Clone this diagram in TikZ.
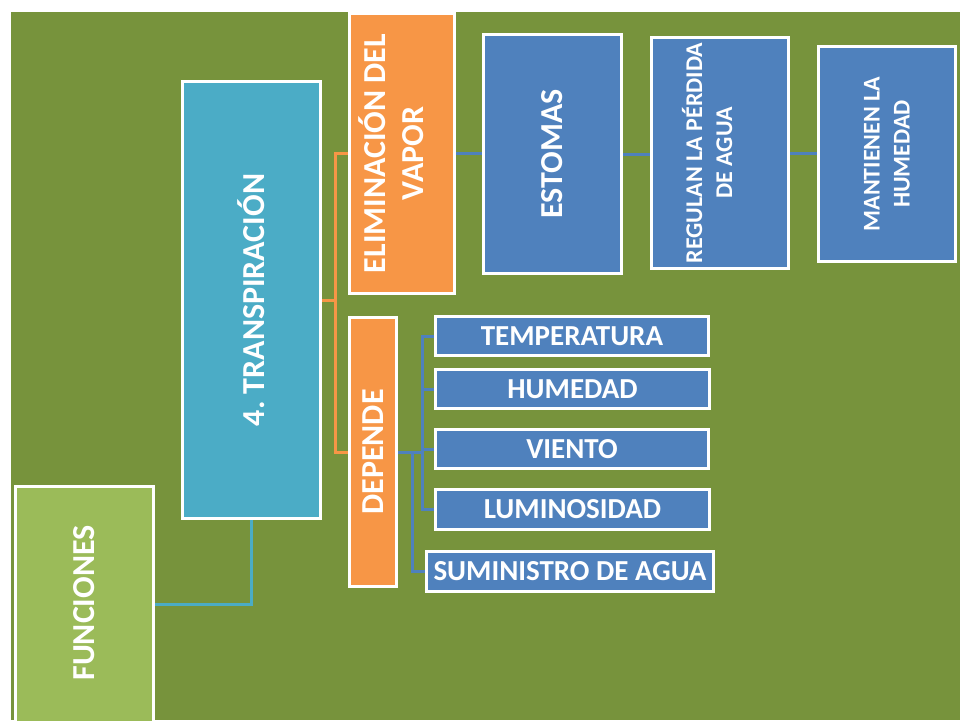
\documentclass[tikz,border=0pt]{standalone}
\usepackage{fontspec}
\setmainfont{Carlito}
\frenchspacing
\pgfdeclarelayer{bg}
\pgfsetlayers{bg,main}
\definecolor{bggreen}{HTML}{77933C}
\definecolor{ltgreen}{HTML}{9BBB59}
\definecolor{aqua}{HTML}{4BACC6}
\definecolor{orng}{HTML}{F79646}
\definecolor{blu}{HTML}{4F81BD}
\tikzset{
  box/.style={draw=white, line width=3pt, fill=#1, inner sep=0pt, rectangle},
  vlbl/.style={text=white, font=\bfseries\fontsize{32}{38.4}\selectfont, rotate=90, align=center, inner sep=0pt},
  vlbls/.style={text=white, font=\bfseries\fontsize{24}{30}\selectfont, rotate=90, align=center, inner sep=0pt},
  hbox/.style={box=blu, minimum width=273pt, minimum height=39pt, text=white, font=\bfseries\fontsize{29}{34}\selectfont},
  conn/.style={line width=3pt, draw=#1},
}
\begin{document}
\begin{tikzpicture}[x=1pt, y=-1pt]
\useasboundingbox (0,0) rectangle (960,720);

% boxes
\node[box=ltgreen, minimum width=138pt, minimum height=236pt] (func) at (84.5,604) {};
\node[box=aqua, minimum width=138pt, minimum height=437pt] (trans) at (251.5,300) {};
\node[box=orng, minimum width=105pt, minimum height=280pt] (elim) at (402,153.5) {};
\node[box=orng, minimum width=47pt, minimum height=269pt] (dep) at (373,452) {};
\node[box=blu, minimum width=138pt, minimum height=239pt] (est) at (552.5,154) {};
\node[box=blu, minimum width=137pt, minimum height=231pt] (reg) at (720,153) {};
\node[box=blu, minimum width=137pt, minimum height=215pt] (mant) at (887,154) {};

\node[hbox] (temp) at (572,336) {TEMPERATURA};
\node[hbox, minimum width=274pt] (hum) at (572.5,389) {HUMEDAD};
\node[hbox] (viento) at (572,449) {VIENTO};
\node[hbox, minimum width=274pt, minimum height=40pt] (lum) at (572.5,509.5) {LUMINOSIDAD};
\node[hbox, minimum width=287pt, minimum height=40pt] (sum) at (570,571.5) {SUMINISTRO DE AGUA};

% vertical labels
\node[vlbl] (tfunc) at (84.5,603) {FUNCIONES};
\node[vlbl] (ttrans) at (251.5,300) {4. TRANSPIRACIÓN};
\node[vlbl] (telim) at (391,153.5) {ELIMINACIÓN DEL\\VAPOR};
\node[vlbl] (tdep) at (373,452) {DEPENDE};
\node[vlbl] (test) at (552.5,154) {ESTOMAS};
\node[vlbls] (treg) at (707,153) {REGULAN LA PÉRDIDA\\DE AGUA};
\node[vlbls] (tmant) at (887,154) {MANTIENEN LA\\HUMEDAD};

% background and connectors
\coordinate (oj) at (335.5,300);
\coordinate (dj) at (422,452);
\coordinate (dk) at (412,452);
\begin{pgfonlayer}{bg}
\fill[white] (0,0) rectangle (960,720);
\fill[bggreen] (11,12) rectangle (960,720);
\draw[conn=aqua] (func.east) -| (trans.south);
\draw[conn=orng] (trans.east) -- (trans.east -| oj);
\draw[conn=orng] (elim.west) -- (elim.west -| oj) |- (dep.west);
\draw[conn=blu] (elim.east) -- (elim.east -| est.west);
\draw[conn=blu] (est.east) -- (est.east -| reg.west);
\draw[conn=blu] (reg.east) -- (reg.east -| mant.west);
\draw[conn=blu] (dep.east) -- (dj);
\draw[conn=blu] (temp.west) -- (temp.west -| dj) -- (lum.west -| dj) -- (lum.west);
\draw[conn=blu] (hum.west) -- (hum.west -| dj);
\draw[conn=blu] (viento.west) -- (viento.west -| dj);
\draw[conn=blu] (dk) |- (sum.west);
\end{pgfonlayer}
\end{tikzpicture}
\end{document}
